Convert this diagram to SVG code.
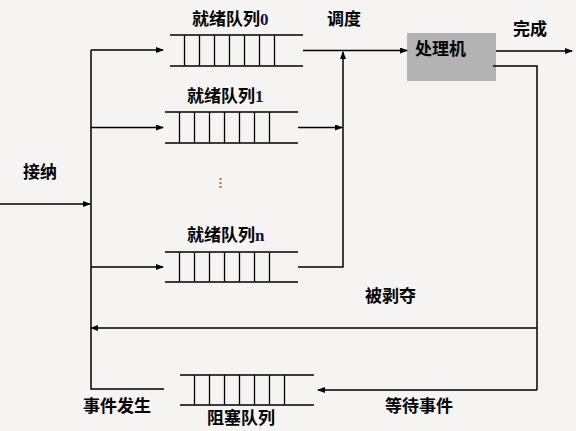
<svg xmlns="http://www.w3.org/2000/svg" width="576" height="431" viewBox="0 0 576 431">
<defs>
<marker id="ah" markerWidth="8" markerHeight="6" refX="7" refY="3" orient="auto" markerUnits="userSpaceOnUse">
<path d="M0,0 L8,3 L0,6 Z" fill="#000"/>
</marker>
<style>
.ln{stroke:#000;stroke-width:1.5;fill:none}
.ar{stroke:#000;stroke-width:1.5;fill:none;marker-end:url(#ah)}
.q{stroke:#000;stroke-width:1.3;fill:none}
.t{font-family:"Noto Sans CJK SC","Noto Sans CJK JP",sans-serif;font-size:17px;font-weight:bold;fill:#000}
.d{font-family:"Liberation Serif",serif;font-weight:bold;fill:#101040}
</style>
</defs>
<rect width="576" height="431" fill="#f6f4f2"/>

<g id="ready0">
<path class="q" d="M170,35H303M170,66H303M184.5,35V66M199.5,35V66M214.5,35V66M229.5,35V66M244.5,35V66M259.5,35V66M274.5,35V66"/>
<text class="t" x="192" y="25">就绪队列<tspan class="d">0</tspan></text>
</g>
<g id="ready1">
<path class="q" d="M165,112H298M165,143H298M179.5,112V143M194.5,112V143M209.5,112V143M224.5,112V143M239.5,112V143M254.5,112V143M269.5,112V143"/>
<text class="t" x="187" y="102">就绪队列<tspan class="d">1</tspan></text>
</g>
<g id="ellipsis">
<rect x="219.5" y="178" width="2" height="2" fill="#c06a20"/>
<rect x="219.5" y="182" width="2" height="2" fill="#c06a20"/>
<rect x="219.5" y="186" width="2" height="2" fill="#c06a20"/>
</g>
<g id="readyn">
<path class="q" d="M165,252H298M165,282H298M179.5,252V282M194.5,252V282M209.5,252V282M224.5,252V282M239.5,252V282M254.5,252V282M269.5,252V282"/>
<text class="t" x="187" y="241">就绪队列<tspan class="d">n</tspan></text>
</g>
<g id="blocked">
<path class="q" d="M180,375H314M180,405H314M194.5,375V405M209.5,375V405M224.5,375V405M239.5,375V405M254.5,375V405M269.5,375V405M284.5,375V405"/>
<text class="t" x="207" y="424">阻塞队列</text>
</g>
<g id="cpu">
<rect x="407" y="33" width="89" height="48" fill="#b3b3b3"/>
<text class="t" x="415" y="55">处理机</text>
</g>

<g id="labels">
<text class="t" x="327" y="25">调度</text>
<text class="t" x="513" y="35">完成</text>
<text class="t" x="23" y="178">接纳</text>
<text class="t" x="365" y="302">被剥夺</text>
<text class="t" x="83" y="412">事件发生</text>
<text class="t" x="385" y="412">等待事件</text>
</g>

<g id="connectors">
<path class="ar" d="M0,204H90"/>
<path class="ln" d="M91,50V389H164"/>
<path class="ar" d="M91,50H163"/>
<path class="ar" d="M91,127.5H163"/>
<path class="ar" d="M91,267H163"/>
<path class="ar" d="M303,50.5H407"/>
<path class="ar" d="M298,127.5H342"/>
<path class="ln" d="M298,267H343V60"/>
<path class="ar" d="M343,60V52"/>
<path class="ar" d="M496,51H572"/>
<path class="ln" d="M493,66H537V390"/>
<path class="ar" d="M537,328H91"/>
<path class="ar" d="M537,390H318"/>
</g>
</svg>
